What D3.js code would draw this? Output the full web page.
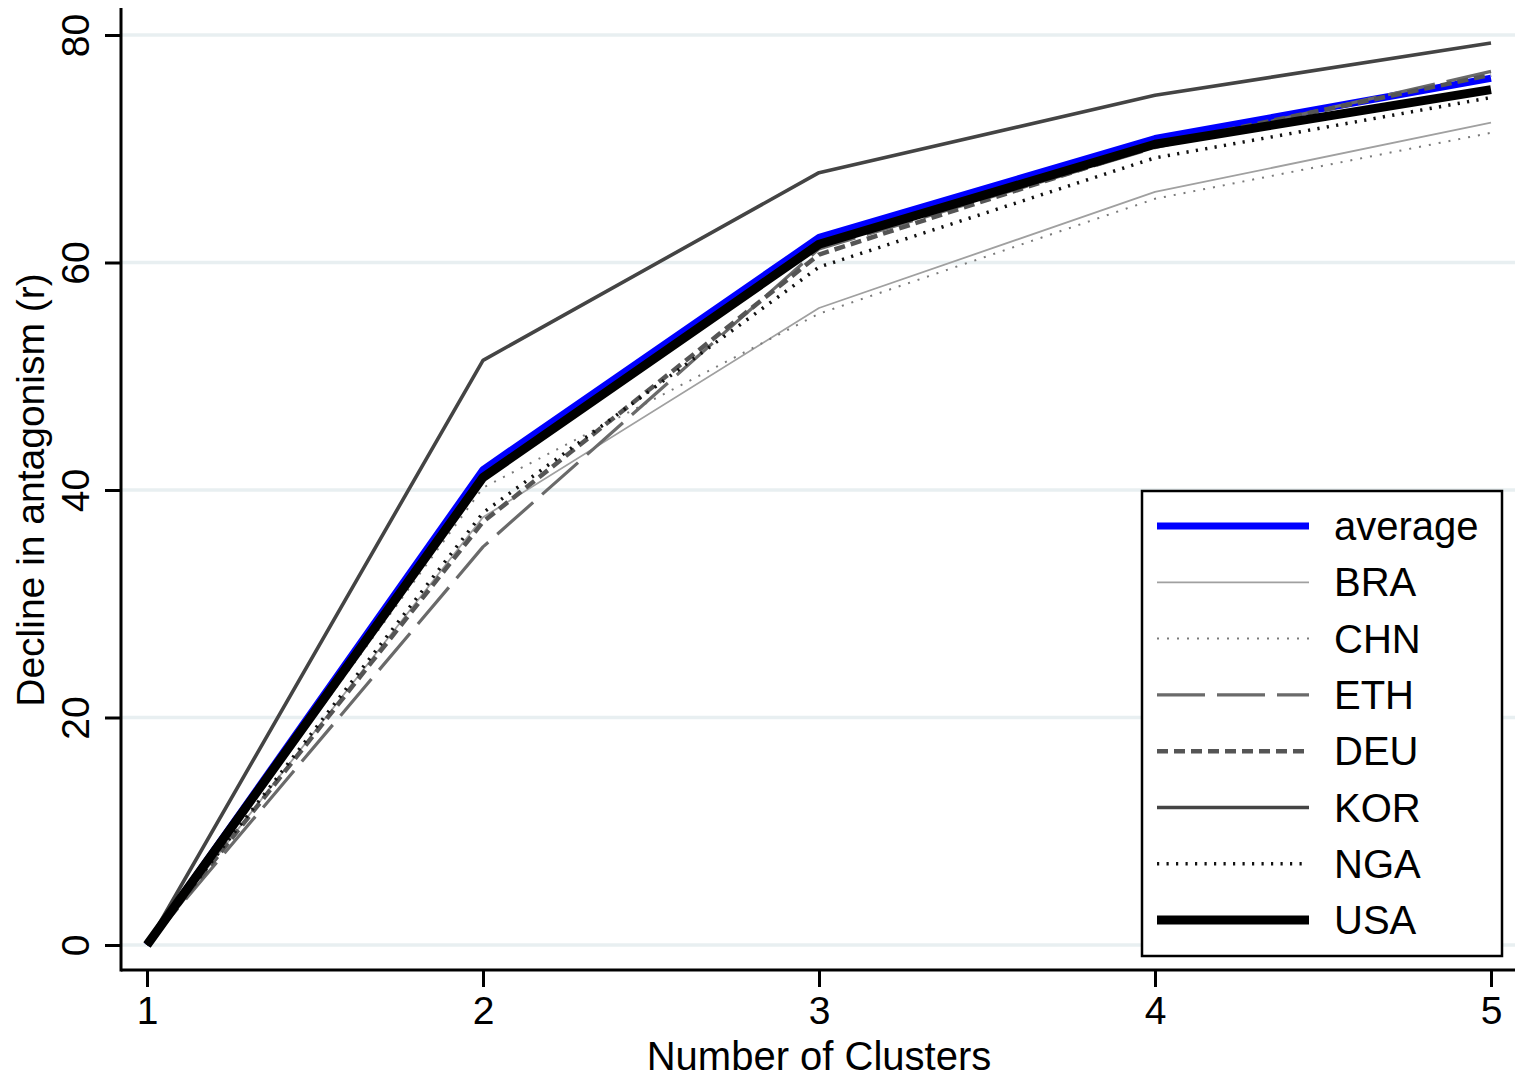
<!DOCTYPE html>
<html>
<head>
<meta charset="utf-8">
<script src="https://cdn.jsdelivr.net/npm/d3@7"></script>
<style>
  body { margin: 0; background: #fff; }
  text { font-family: "Liberation Sans", Arial, sans-serif; fill: #000; }
</style>
</head>
<body>
<svg id="chart" width="1515" height="1078"></svg>
<script>
// data
const clusters = [1, 2, 3, 4, 5]
const yTicks = [0, 20, 40, 60, 80]

const average = [0, 41.8, 62.2, 70.9, 76.2]
const BRA = [0, 37.6, 56.0, 66.2, 72.3]
const CHN = [0, 40.2, 55.5, 65.6, 71.4]
const ETH = [0, 35.0, 61.2, 70.1, 76.8]
const DEU = [0, 37.2, 60.7, 70.3, 76.5]
const KOR = [0, 51.4, 67.9, 74.7, 79.3]
const NGA = [0, 38.0, 59.6, 69.2, 74.5]
const USA = [0, 41.1, 61.6, 70.4, 75.2]

const seriesNames = ['average', 'BRA', 'CHN', 'ETH', 'DEU', 'KOR', 'NGA', 'USA']
const seriesValues = [average, BRA, CHN, ETH, DEU, KOR, NGA, USA]

// line looks, stata-ish
const styles = {
  average: { color: '#0000ff', width: 7, dash: null },
  BRA: { color: '#a0a0a0', width: 1.8, dash: null },
  CHN: { color: '#7a7a7a', width: 2, dash: '2,8' },
  ETH: { color: '#6a6a6a', width: 3.2, dash: '48,12' },
  DEU: { color: '#555555', width: 4.5, dash: '11,6' },
  KOR: { color: '#444444', width: 3.6, dash: null },
  NGA: { color: '#111111', width: 3.5, dash: '2.2,7.3' },
  USA: { color: '#000000', width: 9, dash: null }
}

const svg = d3.select('#chart')
const plotLeft = 121, plotRight = 1515, plotTop = 8, plotBottom = 970

const x = d3.scaleLinear().domain([1, 5]).range([147, 1491])
const y = d3.scaleLinear().domain([0, 80]).range([945, 35])

// gridlines
svg.append('g')
  .selectAll('line')
  .data(yTicks)
  .enter()
  .append('line')
  .attr('x1', plotLeft)
  .attr('x2', plotRight)
  .attr('y1', d => y(d))
  .attr('y2', d => y(d))
  .attr('stroke', '#e8eff1')
  .attr('stroke-width', 3.5)

// lines
const line = d3.line()
  .x((d, i) => x(clusters[i]))
  .y(d => y(d))

svg.append('g')
  .selectAll('path')
  .data(seriesNames)
  .enter()
  .append('path')
  .attr('d', (d, i) => line(seriesValues[i]))
  .attr('fill', 'none')
  .attr('stroke', d => styles[d].color)
  .attr('stroke-width', d => styles[d].width)
  .attr('stroke-dasharray', d => styles[d].dash)
  .attr('stroke-linejoin', 'round')

// axes
const xAxis = svg.append('g')
  .attr('transform', 'translate(0,' + plotBottom + ')')
  .call(d3.axisBottom(x).tickValues(clusters).tickFormat(d3.format('d')).tickSize(17).tickSizeOuter(0).tickPadding(9))
xAxis.select('.domain').remove()
xAxis.selectAll('line').attr('stroke', '#000').attr('stroke-width', 3)
xAxis.selectAll('text').style('font-size', '39px').attr('fill', '#000')

const yAxis = svg.append('g')
  .attr('transform', 'translate(' + plotLeft + ',0)')
  .call(d3.axisLeft(y).tickValues(yTicks).tickSize(16).tickSizeOuter(0))
yAxis.select('.domain').remove()
yAxis.selectAll('line').attr('stroke', '#000').attr('stroke-width', 3)
yAxis.selectAll('text')
  .attr('x', 0).attr('dy', null).attr('y', 0)
  .attr('transform', 'translate(-32,0) rotate(-90)')
  .attr('text-anchor', 'middle')
  .style('font-size', '39px')
  .attr('fill', '#000')

// axis lines
svg.append('line').attr('x1', plotLeft).attr('x2', plotLeft).attr('y1', plotTop).attr('y2', plotBottom + 1.5)
  .attr('stroke', '#000').attr('stroke-width', 3)
svg.append('line').attr('x1', plotLeft).attr('x2', plotRight).attr('y1', plotBottom).attr('y2', plotBottom)
  .attr('stroke', '#000').attr('stroke-width', 3)

// titles
svg.append('text')
  .attr('x', 819).attr('y', 1070)
  .attr('text-anchor', 'middle')
  .style('font-size', '40px')
  .text('Number of Clusters')

svg.append('text')
  .attr('transform', 'translate(44,490) rotate(-90)')
  .attr('text-anchor', 'middle')
  .style('font-size', '39px')
  .text('Decline in antagonism (r)')

// legend
const legend = svg.append('g')
legend.append('rect')
  .attr('x', 1142).attr('y', 491).attr('width', 360).attr('height', 465)
  .attr('fill', '#fff').attr('stroke', '#000').attr('stroke-width', 2.5)

const rows = legend.selectAll('.legend-row')
  .data(seriesNames)
  .enter()
  .append('g')
  .attr('class', 'legend-row')
  .attr('transform', (d, i) => 'translate(0,' + (526 + i * 56.3) + ')')

rows.append('line')
  .attr('x1', 1157).attr('x2', 1309)
  .attr('stroke', d => styles[d].color)
  .attr('stroke-width', d => styles[d].width)
  .attr('stroke-dasharray', d => styles[d].dash)

rows.append('text')
  .attr('x', 1334).attr('y', 14)
  .style('font-size', '40px')
  .text(d => d)
</script>
</body>
</html>
